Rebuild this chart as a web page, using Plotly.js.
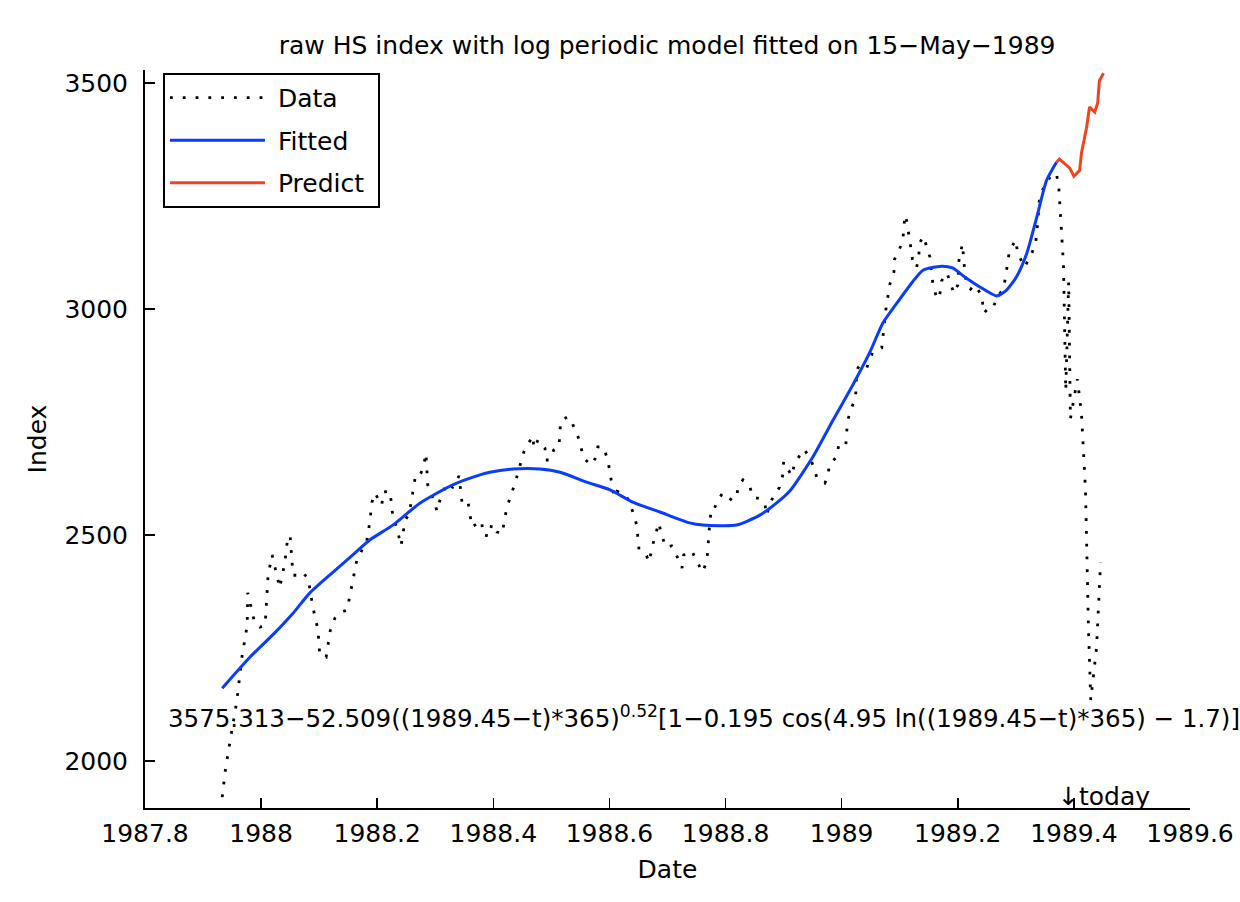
<!DOCTYPE html>
<html>
<head>
<meta charset="utf-8">
<script src="https://cdn.plot.ly/plotly-3.0.1.min.js"></script>
<style>html,body{margin:0;padding:0;background:#fff}#chart{width:1240px;height:902px}</style>
</head>
<body>
<div id="chart"></div>
<script>
// Raw HS index (decimal year, index value)
const dataT = [1987.933,1987.938,1987.946,1987.958,1987.967,1987.976,1987.977,1987.989,1987.998,1988.007,1988.012,1988.019,1988.027,1988.032,1988.041,1988.046,1988.050,1988.053,1988.055,1988.063,1988.070,1988.081,1988.089,1988.098,1988.101,1988.112,1988.119,1988.127,1988.139,1988.148,1988.156,1988.165,1988.182,1988.187,1988.191,1988.196,1988.208,1988.210,1988.222,1988.227,1988.234,1988.241,1988.248,1988.255,1988.265,1988.270,1988.279,1988.284,1988.287,1988.296,1988.303,1988.308,1988.320,1988.330,1988.341,1988.346,1988.356,1988.363,1988.380,1988.382,1988.394,1988.397,1988.406,1988.415,1988.423,1988.437,1988.453,1988.468,1988.470,1988.477,1988.489,1988.490,1988.497,1988.504,1988.513,1988.516,1988.527,1988.532,1988.546,1988.556,1988.568,1988.575,1988.580,1988.589,1988.597,1988.608,1988.613,1988.626,1988.635,1988.647,1988.651,1988.664,1988.668,1988.676,1988.685,1988.690,1988.697,1988.707,1988.718,1988.725,1988.728,1988.742,1988.750,1988.761,1988.768,1988.773,1988.776,1988.781,1988.787,1988.795,1988.811,1988.818,1988.823,1988.830,1988.842,1988.847,1988.861,1988.868,1988.871,1988.876,1988.893,1988.899,1988.900,1988.905,1988.914,1988.919,1988.926,1988.935,1988.945,1988.952,1988.957,1988.971,1988.976,1988.979,1988.991,1988.995,1989.007,1989.010,1989.017,1989.024,1989.026,1989.031,1989.043,1989.053,1989.069,1989.071,1989.076,1989.083,1989.090,1989.091,1989.105,1989.109,1989.112,1989.119,1989.122,1989.129,1989.133,1989.134,1989.141,1989.145,1989.152,1989.157,1989.164,1989.169,1989.172,1989.181,1989.186,1989.193,1989.200,1989.202,1989.208,1989.212,1989.215,1989.222,1989.229,1989.241,1989.245,1989.250,1989.260,1989.267,1989.279,1989.286,1989.289,1989.300,1989.303,1989.315,1989.319,1989.326,1989.334,1989.338,1989.341,1989.358,1989.367,1989.370,1989.374,1989.382,1989.386,1989.391,1989.394,1989.406,1989.413,1989.420,1989.425,1989.429,1989.439,1989.443,1989.446];
const dataV = [1920,1976,2040,2131,2230,2300,2372,2305,2296,2301,2411,2456,2411,2383,2440,2496,2498,2440,2411,2411,2418,2405,2341,2290,2235,2230,2288,2316,2330,2334,2385,2445,2487,2527,2573,2593,2566,2595,2597,2540,2515,2476,2533,2546,2624,2622,2648,2681,2611,2582,2553,2577,2615,2606,2631,2573,2577,2518,2531,2500,2498,2524,2507,2502,2560,2613,2686,2719,2692,2710,2692,2666,2666,2688,2695,2752,2761,2759,2717,2670,2655,2668,2695,2695,2668,2584,2597,2591,2573,2522,2467,2454,2440,2485,2527,2500,2473,2476,2449,2427,2456,2465,2442,2418,2445,2531,2560,2560,2577,2593,2577,2582,2611,2622,2606,2584,2580,2566,2544,2571,2606,2635,2662,2650,2631,2659,2672,2690,2672,2650,2628,2615,2628,2657,2672,2699,2697,2752,2781,2805,2865,2876,2869,2903,2914,2942,2998,3055,3082,3110,3148,3208,3195,3137,3110,3091,3119,3146,3161,3144,3115,3057,3022,3031,3062,3080,3064,3035,3053,3108,3144,3084,3057,3044,3053,3031,2991,2998,3000,3024,3046,3102,3130,3153,3124,3093,3102,3119,3144,3195,3252,3290,3301,3299,3270,3100,2820,3060,2757,2845,2770,2600,2300,2135,2250,2360,2440];

// Log-periodic model fitted up to today
const fitT = [1987.933,1987.981,1988.020,1988.055,1988.084,1988.124,1988.158,1988.187,1988.227,1988.274,1988.330,1988.377,1988.394,1988.434,1988.480,1988.515,1988.561,1988.601,1988.640,1988.687,1988.738,1988.761,1988.819,1988.859,1988.888,1988.911,1988.950,1988.985,1989.017,1989.048,1989.071,1989.095,1989.122,1989.140,1989.172,1989.191,1989.215,1989.238,1989.267,1989.284,1989.301,1989.319,1989.336,1989.353,1989.370];
const fitV = [2161,2230,2279,2327,2372,2418,2456,2489,2522,2571,2611,2633,2639,2646,2646,2639,2617,2600,2573,2551,2527,2522,2522,2544,2571,2598,2672,2754,2827,2903,2969,3013,3060,3086,3095,3091,3068,3049,3029,3042,3071,3124,3203,3285,3325];

// Model prediction after today
const predT = [1989.370,1989.375,1989.393,1989.400,1989.410,1989.413,1989.422,1989.427,1989.436,1989.441,1989.444,1989.451];
const predV = [3325,3332,3312,3294,3307,3345,3403,3447,3436,3456,3506,3522];

const seriesNames = ['Data','Fitted','Predict'];
const xTicks = [1987.8,1988,1988.2,1988.4,1988.6,1988.8,1989,1989.2,1989.4,1989.6];
const xTickText = ['1987.8','1988','1988.2','1988.4','1988.6','1988.8','1989','1989.2','1989.4','1989.6'];
const yTicks = [2000,2500,3000,3500];
const todayT = 1989.37;
const titleText = 'raw HS index with log periodic model fitted on 15\u2212May\u22121989';
const formulaText = '3575.313\u221252.509((1989.45\u2212t)*365)<sup>0.52</sup>[1\u22120.195 cos(4.95 ln((1989.45\u2212t)*365) \u2212 1.7)]';

const FONT = 'DejaVu Sans, Liberation Sans, Arial, sans-serif';
const FS = 25;
const NB = '\u00a0';

const traces = [
  {x: dataT, y: dataV, name: NB + seriesNames[0] + NB, legendgroup: 'g1', mode: 'lines', type: 'scatter',
   line: {color: '#000000', width: 2.8, dash: '2.8px,10px'}},
  {x: fitT, y: fitV, name: NB + seriesNames[1] + NB, legendgroup: 'g2', mode: 'lines', type: 'scatter',
   line: {color: '#0a3cff', width: 3, shape: 'spline', smoothing: 0.6}},
  {x: predT, y: predV, name: NB + seriesNames[2] + NB, legendgroup: 'g3', mode: 'lines', type: 'scatter',
   line: {color: '#f0441e', width: 3}}
];

const layout = {
  width: 1240, height: 902,
  paper_bgcolor: '#ffffff', plot_bgcolor: '#ffffff',
  margin: {l: 145, r: 50, t: 70, b: 94},
  font: {family: FONT, size: FS, color: '#000'},
  title: {text: titleText, x: 0.538, xanchor: 'center', y: 0.95, yanchor: 'middle',
          font: {family: FONT, size: FS, color: '#000'}},
  showlegend: true,
  legend: {x: 0.0172, y: 0.996, xanchor: 'left', yanchor: 'top',
           bgcolor: '#ffffff', bordercolor: '#000000', borderwidth: 2,
           font: {family: FONT, size: FS, color: '#000'}, itemwidth: 95,
           tracegroupgap: 7},
  xaxis: {range: [1987.8, 1989.6], tickmode: 'array', tickvals: xTicks, ticktext: xTickText,
          ticks: 'inside', ticklen: 10, tickwidth: 1.5, tickcolor: '#000',
          showline: true, linecolor: '#000', linewidth: 2, showgrid: false, zeroline: false,
          ticklabelstandoff: 2,
          tickfont: {family: FONT, size: FS, color: '#000'},
          title: {text: 'Date', standoff: 13, font: {family: FONT, size: FS, color: '#000'}}},
  yaxis: {range: [1896, 3529], tickmode: 'array', tickvals: yTicks,
          ticks: 'inside', ticklen: 10, tickwidth: 1.5, tickcolor: '#000',
          showline: true, linecolor: '#000', linewidth: 2, showgrid: false, zeroline: false,
          ticklabelstandoff: 10,
          tickfont: {family: FONT, size: FS, color: '#000'},
          title: {text: 'Index', standoff: 11, font: {family: FONT, size: FS, color: '#000'}}},
  annotations: [
    {xref: 'x', yref: 'y', x: 1987.836, y: 2097, xanchor: 'left', yanchor: 'middle',
     text: formulaText, showarrow: false, font: {family: FONT, size: 24.5, color: '#000'}},
    {xref: 'x', yref: 'y', x: todayT, y: 1922, xanchor: 'left', yanchor: 'middle',
     text: '\u2193today', showarrow: false, font: {family: FONT, size: FS, color: '#000'}}
  ]
};

Plotly.newPlot('chart', traces, layout, {displayModeBar: false, staticPlot: true});
</script>
</body>
</html>
